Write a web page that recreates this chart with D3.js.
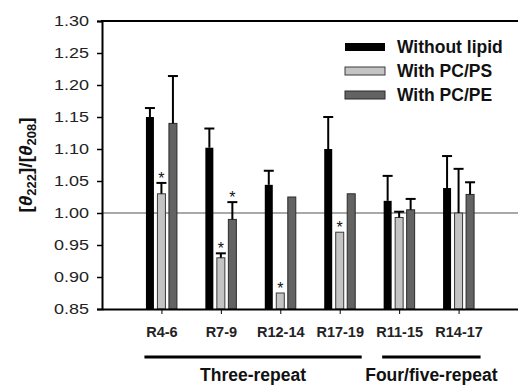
<!DOCTYPE html>
<html><head><meta charset="utf-8">
<script src="https://cdn.jsdelivr.net/npm/d3@7"></script>
<style>body{margin:0;background:#fff}svg{display:block}text{font-family:"Liberation Sans",Arial,sans-serif}</style>
</head><body>
<svg id="c" width="518" height="387"></svg>
<script>
const categories = ["R4-6","R7-9","R12-14","R17-19","R11-15","R14-17"];
const seriesNames = ["Without lipid","With PC/PS","With PC/PE"];
const withoutLipid = [1.150, 1.102, 1.044, 1.100, 1.019, 1.039];
const withoutLipidErr = [1.164, 1.132, 1.066, 1.150, 1.058, 1.089];
const withPCPS = [1.030, 0.930, 0.875, 0.970, 0.993, 1.000];
const withPCPSErr = [1.047, 0.937, null, null, 1.002, 1.069];
const withPCPE = [1.140, 0.990, 1.025, 1.030, 1.005, 1.029];
const withPCPEErr = [1.214, 1.017, null, null, 1.022, 1.048];
const stars = [[false,true,false],[false,true,true],[false,true,false],[false,true,false],[false,false,false],[false,false,false]];
const yTicks = [0.85,0.90,0.95,1.00,1.05,1.10,1.15,1.20,1.25,1.30];
const groups = [{label:"Three-repeat", from:"R4-6", to:"R17-19"},{label:"Four/five-repeat", from:"R11-15", to:"R14-17"}];

const fills = ["#000000","#c4c4c4","#636363"];
const strokes = ["#000000","#3a3a3a","#2a2a2a"];
const vals = [withoutLipid, withPCPS, withPCPE];
const errs = [withoutLipidErr, withPCPSErr, withPCPEErr];

const svg = d3.select("#c");
const L = 102, R = 518, T = 21, B = 309;
const x = d3.scalePoint().domain(categories).range([L, R]).padding(1);
const y = d3.scaleLinear().domain([0.85, 1.30]).range([B, T]);
const off = [-11.5, 0, 11.5], bw = 8;

// reference line at 1.00
svg.append("line").attr("x1",L).attr("x2",R).attr("y1",y(1)).attr("y2",y(1))
  .attr("stroke","#555").attr("stroke-width",1.2);

// bars
categories.forEach((c,i)=>{
  for(let s=0;s<3;s++){
    const v = vals[s][i];
    const cx = x(c)+off[s];
    svg.append("rect").attr("x",cx-bw/2).attr("y",y(v)).attr("width",bw).attr("height",B-y(v))
      .attr("fill",fills[s]).attr("stroke",strokes[s]).attr("stroke-width",s===0?0:1);
    const e = errs[s][i];
    if(e!=null){
      svg.append("line").attr("x1",cx).attr("x2",cx).attr("y1",y(v)).attr("y2",y(e)).attr("stroke","#000").attr("stroke-width",2);
      svg.append("line").attr("x1",cx-5).attr("x2",cx+5).attr("y1",y(e)).attr("y2",y(e)).attr("stroke","#000").attr("stroke-width",2);
    }
    if(stars[i][s]){
      const top = e!=null? y(e): y(v);
      svg.append("text").attr("x",cx).attr("y",top+1).attr("text-anchor","middle")
        .attr("font-size",16).attr("fill","#111").text("*");
    }
  }
});

// y axis
const ya = svg.append("g").attr("transform",`translate(${L},0)`)
  .call(d3.axisLeft(y).tickValues(yTicks).tickFormat(d3.format(".2f")).tickSizeOuter(0).tickSize(5).tickPadding(8));
ya.select(".domain").attr("stroke","#000").attr("stroke-width",2);
ya.selectAll(".tick line").attr("stroke","#000").attr("stroke-width",1.5);
ya.selectAll("text").attr("font-size",14.5).attr("fill","#222")
  .attr("textLength",35).attr("lengthAdjust","spacingAndGlyphs")
  .style("font-family","'Liberation Sans',Arial,sans-serif");

// x axis
const xa = svg.append("g").attr("transform",`translate(0,${B})`)
  .call(d3.axisBottom(x).tickSize(5).tickSizeOuter(0).tickPadding(13));
xa.select(".domain").attr("stroke","#000").attr("stroke-width",2);
xa.selectAll(".tick line").attr("stroke","#000").attr("stroke-width",1);
xa.selectAll("text").attr("font-size",14.5).attr("font-weight","bold").attr("fill","#222").style("font-family","'Liberation Sans',Arial,sans-serif");

// top border
svg.append("line").attr("x1",L-1).attr("x2",R).attr("y1",T).attr("y2",T).attr("stroke","#000").attr("stroke-width",2);

// y title
const yt = svg.append("text").attr("transform","translate(32,165) rotate(-90)").attr("text-anchor","middle")
  .attr("font-size",19).attr("font-weight","bold").attr("fill","#111");
yt.append("tspan").text("[");
yt.append("tspan").attr("font-style","italic").text("θ");
yt.append("tspan").attr("font-size",13).attr("dy",4).text("222");
yt.append("tspan").attr("dy",-4).text("]/[");
yt.append("tspan").attr("font-style","italic").text("θ");
yt.append("tspan").attr("font-size",13).attr("dy",4).text("208");
yt.append("tspan").attr("dy",-4).text("]");

// groups
groups.forEach(g=>{
  const x1 = x(g.from)-17, x2 = x(g.to)+22;
  svg.append("line").attr("x1",x1).attr("x2",x2).attr("y1",357).attr("y2",357).attr("stroke","#000").attr("stroke-width",3);
  svg.append("text").attr("x",(x1+x2)/2).attr("y",381).attr("text-anchor","middle").attr("font-size",17.5)
    .attr("font-weight","bold").attr("fill","#111").text(g.label);
});

// legend
seriesNames.forEach((n,s)=>{
  const ly = 47 + s*24;
  svg.append("rect").attr("x",345).attr("y",ly-4).attr("width",40).attr("height",8)
    .attr("fill",fills[s]).attr("stroke",strokes[s]).attr("stroke-width",s===0?0:1);
  svg.append("text").attr("x",397).attr("y",ly+6).attr("font-size",17.5).attr("font-weight","bold").attr("fill","#111").text(n);
});
</script>
</body></html>
